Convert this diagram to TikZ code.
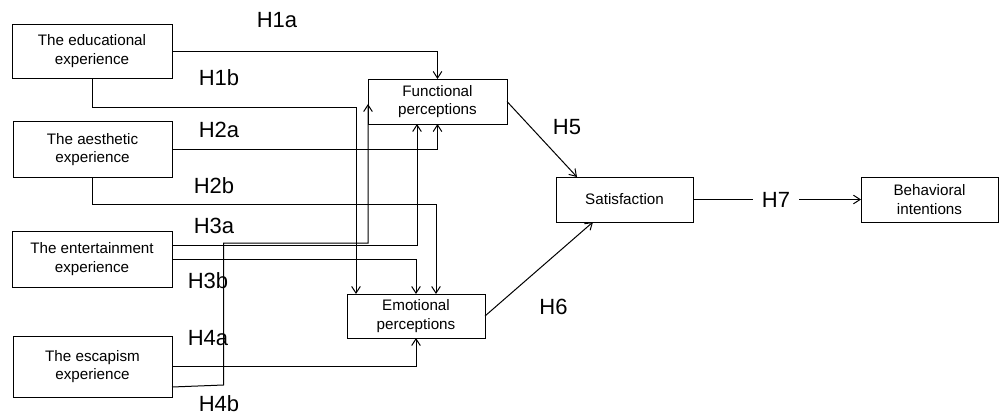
\documentclass[tikz,border=0pt]{standalone}
\usepackage{fontspec}
\setmainfont{Liberation Sans}
\usetikzlibrary{arrows.meta,calc}
\begin{document}
\begin{tikzpicture}[x=0.75pt,y=-0.75pt,
  box/.style={draw,line width=0.75pt,inner sep=0pt,outer sep=0pt,align=center,
    font=\fontsize{11.4}{13.7}\selectfont},
  hyp/.style={font=\fontsize{16.5}{19}\selectfont,inner sep=0pt},
  conn/.style={line width=0.75pt,-{Straight Barb[length=5pt,width=6.5pt]}},
  plain/.style={line width=0.75pt}]
\useasboundingbox (0,0) rectangle (1008,415);

% boxes
\node[box,minimum width=120pt,minimum height=40.5pt] (edu) at (92,51) {The educational\\experience};
\node[box,minimum width=119.25pt,minimum height=42pt] (aes) at (92.5,149.5) {The aesthetic\\experience};
\node[box,minimum width=120pt,minimum height=42pt] (ent) at (92,259) {The entertainment\\experience};
\node[box,minimum width=119.25pt,minimum height=45.75pt] (esc) at (92.5,366.5) {The escapism\\experience};
\node[box,minimum width=104.25pt,minimum height=33.75pt] (func) at (437.5,101.5) {Functional\\perceptions};
\node[box,minimum width=103.5pt,minimum height=33pt] (emo) at (416,316) {Emotional\\perceptions};
\node[box,minimum width=102.75pt,minimum height=33.75pt] (sat) at (624.5,199.5) {Satisfaction};
\node[box,minimum width=102.75pt,minimum height=33.75pt] (beh) at (929.5,199.5) {Behavioral\\intentions};

% hypothesis labels
\node[hyp] (h1a) at (277,20) {H1a};
\node[hyp] (h1b) at (219,78) {H1b};
\node[hyp] (h2a) at (219,129.5) {H2a};
\node[hyp] (h2b) at (214,186) {H2b};
\node[hyp] (h3a) at (214,226) {H3a};
\node[hyp] (h3b) at (208,281) {H3b};
\node[hyp] (h4a) at (208,338) {H4a};
\node[hyp] (h4b) at (219,403.5) {H4b};
\node[hyp] (h5) at (567,127) {H5};
\node[hyp] (h6) at (553.5,307) {H6};
\node[hyp,inner xsep=6.8pt] (h7) at (776,200) {H7};

% connectors
\draw[conn] (edu.east) -| (func.north);
\draw[conn] (edu.south) -- ++(0,29.5) -| ($(emo.north west)+(9,0)$);
\draw[conn] (aes.east) -| (func.south);
\draw[conn] (aes.south) -- ++(0,26.5) -| ($(emo.north)+(20,0)$);
\draw[conn] ($(ent.east)+(0,-14)$) -| ($(func.south)+(-20.5,0)$);
\draw[conn] (ent.east) -| (emo.north);
\draw[conn] (esc.east) -| (emo.south);
\draw[conn] ($(esc.east)+(0,20.5)$) -- ++(51.5,-2) |- ($(func.south west)+(0,119)$) -- ($(func.south west)+(0,-20)$);
\draw[conn] (func.east) -- ($(sat.north west)+(21,0)$);
\draw[conn] (emo.east) -- ($(sat.south west)+(37,0)$);
\draw[plain] (sat.east) -- (sat.east -| h7.west);
\draw[conn] (h7.east |- beh.west) -- (beh.west);
\end{tikzpicture}
\end{document}
